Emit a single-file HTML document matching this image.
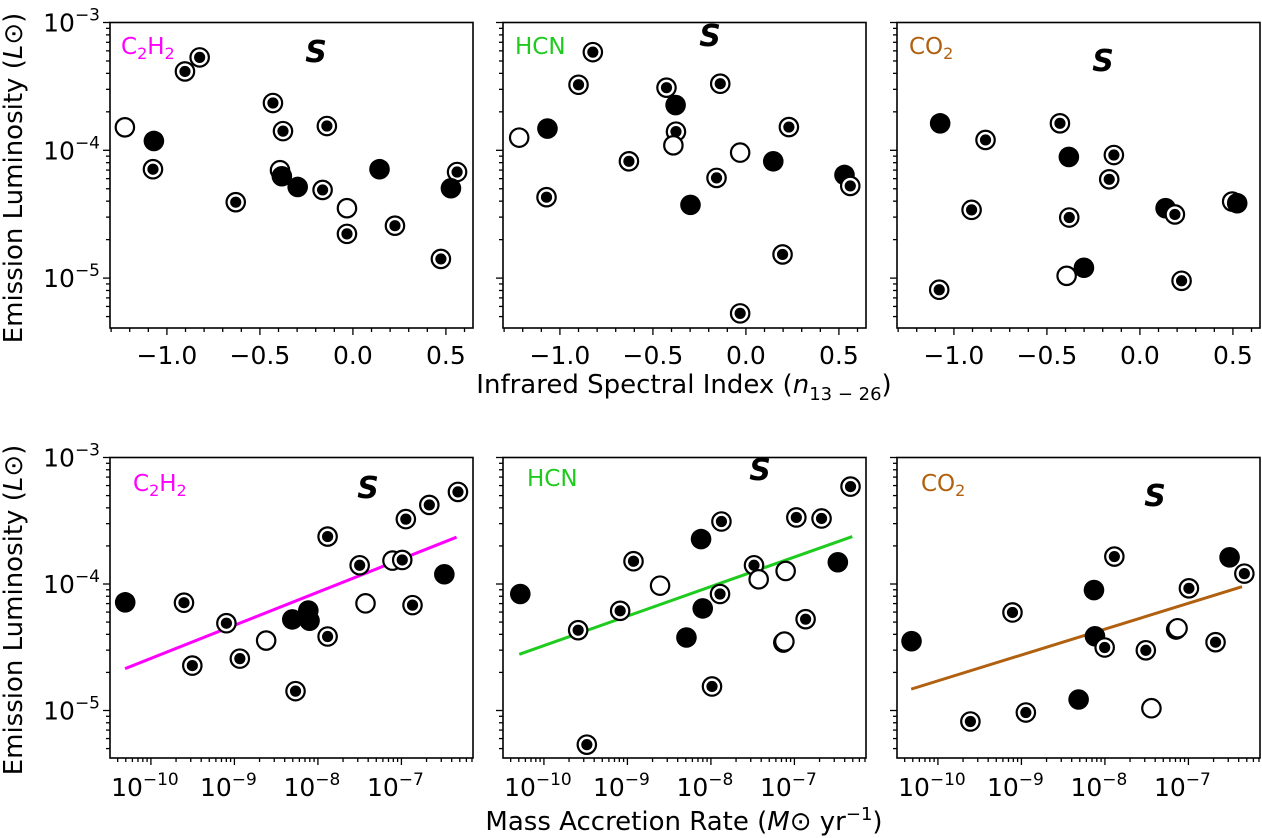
<!DOCTYPE html>
<html><head><meta charset="utf-8"><style>
html,body{margin:0;padding:0;background:#fff;}
svg{display:block;font-family:"DejaVu Sans","Liberation Sans",sans-serif;}
</style></head><body>
<svg id="fig" width="1262" height="838" viewBox="0 0 1262 838" xmlns="http://www.w3.org/2000/svg">
<text transform="translate(22,178) rotate(-90)" text-anchor="middle" font-size="26">Emission Luminosity (<tspan font-style="italic">L</tspan>⊙)</text>
<text transform="translate(22,610) rotate(-90)" text-anchor="middle" font-size="26">Emission Luminosity (<tspan font-style="italic">L</tspan>⊙)</text>
<text x="684" y="393" text-anchor="middle" font-size="26">Infrared Spectral Index (<tspan font-style="italic">n</tspan><tspan font-size="18" dy="7">13 − 26</tspan><tspan dy="-7">)</tspan></text>
<text x="684" y="830" text-anchor="middle" font-size="26">Mass Accretion Rate (<tspan font-style="italic">M</tspan>⊙ yr<tspan font-size="18" dy="-10">−1</tspan><tspan dy="10">)</tspan></text>
</svg>
<script>
// ---- data (x = spectral index or log10 accretion rate, y = log10 luminosity) ----
const topC2H2X=[-1.226,-1.07,-1.075,-0.903,-0.824,-0.63,-0.43,-0.376,-0.392,-0.382,-0.297,-0.14,-0.163,-0.032,-0.032,0.143,0.226,0.473,0.56,0.527];
const topC2H2Y=[-3.82,-3.927,-4.148,-3.383,-3.273,-4.406,-3.63,-3.85,-4.156,-4.203,-4.287,-3.81,-4.31,-4.453,-4.654,-4.148,-4.59,-4.85,-4.17,-4.297];
const topC2H2K=['o','f','r','r','r','r','r','r','o','f','f','r','r','o','r','f','r','r','r','f'];
const topHCNX=[-1.219,-1.067,-1.072,-0.9,-0.823,-0.629,-0.427,-0.378,-0.376,-0.39,-0.298,-0.158,-0.138,-0.031,-0.031,0.147,0.197,0.231,0.53,0.561];
const topHCNY=[-3.901,-3.83,-4.367,-3.487,-3.232,-4.086,-3.51,-3.646,-3.854,-3.961,-4.427,-4.216,-3.479,-4.018,-5.276,-4.086,-4.815,-3.818,-4.193,-4.279];
const topHCNK=['o','f','r','r','r','r','r','f','r','o','f','r','r','o','r','f','r','r','f','r'];
const topCO2X=[-1.074,-1.079,-0.905,-0.83,-0.43,-0.382,-0.38,-0.394,-0.301,-0.165,-0.14,0.138,0.188,0.224,0.496,0.523];
const topCO2Y=[-3.789,-5.091,-4.466,-3.919,-3.789,-4.052,-4.526,-4.982,-4.919,-4.227,-4.037,-4.453,-4.502,-5.021,-4.401,-4.414];
const topCO2K=['f','r','r','r','r','f','r','o','f','r','r','f','r','r','o','f'];
const botC2H2X=[-10.308,-9.604,-9.504,-9.096,-8.935,-8.62,-8.307,-8.115,-8.1,-8.268,-7.884,-7.884,-7.5,-7.43,-7.107,-6.99,-6.947,-6.867,-6.666,-6.486,-6.323];
const botC2H2Y=[-4.145,-4.148,-4.645,-4.31,-4.59,-4.447,-4.28,-4.21,-4.29,-4.847,-4.415,-3.625,-3.852,-4.153,-3.815,-3.81,-3.487,-4.167,-3.375,-3.923,-3.272];
const botC2H2K=['f','r','r','r','r','o','f','f','f','r','r','r','r','o','o','r','r','r','r','f','r'];
const botHCNX=[-10.283,-9.59,-9.486,-9.087,-8.927,-8.609,-8.293,-8.118,-8.098,-7.987,-7.891,-7.874,-7.484,-7.428,-7.133,-7.105,-6.977,-6.866,-6.675,-6.48,-6.328,-7.12];
const botHCNY=[-4.079,-4.365,-5.27,-4.212,-3.82,-4.013,-4.423,-3.645,-4.193,-4.81,-4.079,-3.506,-3.852,-3.963,-4.463,-3.897,-3.474,-4.278,-3.482,-3.828,-3.23,-4.455];
const botHCNK=['f','r','r','r','r','o','f','f','f','r','r','r','r','o','f','o','r','r','r','f','r','o'];
const botCO2X=[-10.316,-9.611,-9.107,-8.947,-8.315,-8.131,-8.119,-8.003,-7.887,-7.51,-7.443,-7.147,-6.994,-6.675,-6.507,-6.33,-7.13];
const botCO2Y=[-4.452,-5.087,-4.225,-5.016,-4.913,-4.048,-4.413,-4.502,-3.783,-4.524,-4.982,-4.36,-4.034,-4.46,-3.789,-3.918,-4.35];
const botCO2K=['f','r','r','r','f','f','f','r','r','r','o','f','r','r','f','r','o'];
const fitC2H2X=[-10.31,-6.34], fitC2H2Y=[-4.669,-3.63];
const fitHCNX=[-10.295,-6.307], fitHCNY=[-4.556,-3.625];
const fitCO2X=[-10.32,-6.358], fitCO2Y=[-4.831,-4.021];
const topXTicks=[-1.0,-0.5,0.0,0.5], topXTickLabels=['−1.0','−0.5','0.0','0.5'];
const botXTicks=[-10,-9,-8,-7], botXTickLabels=['−10','−9','−8','−7'];
const yTicks=[-3,-4,-5], yTickLabels=['−3','−4','−5'];

const NS='http://www.w3.org/2000/svg';
const svg=document.getElementById('fig');
function mk(tag,attrs,parent){const e=document.createElementNS(NS,tag);for(const k in attrs)e.setAttribute(k,attrs[k]);(parent||svg).appendChild(e);return e;}
const lefts=[110,503,897], W=363;
const rows=[{top:22.5,bot:328,ymax:-3,ppd:127.8,xmin:-1.306,ppx:186,type:'lin'},
            {top:457.5,bot:758,ymax:-3,ppd:126.5,xmin:-10.49,ppx:83.5,type:'log'}];
const species=[{c:'#ff00ff'},{c:'#1ecb1e'},{c:'#b0600f'}];
const sPos=[[[316,62],[710,46],[1103,71]],[[368,498],[760,480],[1155,506]]];
const labPos=[[[121,54],[515,54],[909,54]],[[133,491],[527,486],[921,491]]];
const dataSets=[[[topC2H2X,topC2H2Y,topC2H2K],[topHCNX,topHCNY,topHCNK],[topCO2X,topCO2Y,topCO2K]],
                [[botC2H2X,botC2H2Y,botC2H2K],[botHCNX,botHCNY,botHCNK],[botCO2X,botCO2Y,botCO2K]]];
const fits=[[fitC2H2X,fitC2H2Y],[fitHCNX,fitHCNY],[fitCO2X,fitCO2Y]];
const names=['c2h2','hcn','co2'];

rows.forEach((R,ri)=>{
  lefts.forEach((L,pi)=>{
    const g=mk('g',{});
    
    
    const sx=v=>L+(v-R.xmin)*R.ppx;
    const sy=v=>R.top+(R.ymax-v)*R.ppd;
    for(let d=-3;d>=-6;d--){
      for(let m=1;m<10;m++){
        const v=d+Math.log10(m); const y=sy(v);
        if(y<R.top-0.5||y>R.bot+0.5)continue;
        mk('line',{x1:L,x2:L-(m===1?7:4),y1:y,y2:y,stroke:'#000','stroke-width':1.3},g);
      }
    }
    if(pi===0){yTicks.forEach((t,i)=>{const tx=mk('text',{x:L-10,y:sy(t)+9,'text-anchor':'end','font-size':25},g);
      
      tx.innerHTML='10<tspan font-size="17" dy="-11">'+yTickLabels[i]+'</tspan>';});}
    if(R.type==='lin'){
      for(let k=-13;k<=6;k++){const v=k/10;const x=sx(v);if(x<L||x>L+W)continue;
        mk('line',{x1:x,x2:x,y1:R.bot,y2:R.bot+(k%5===0?7:4),stroke:'#000','stroke-width':1.3},g);}
      topXTicks.forEach((t,i)=>{const tx=mk('text',{x:sx(t),y:R.bot+36,'text-anchor':'middle','font-size':25},g);
        tx.textContent=topXTickLabels[i];});
    } else {
      for(let d=-11;d<=-6;d++)for(let m=1;m<10;m++){const v=d+Math.log10(m);const x=sx(v);if(x<L||x>L+W)continue;
        mk('line',{x1:x,x2:x,y1:R.bot,y2:R.bot+(m===1?7:4),stroke:'#000','stroke-width':1.3},g);}
      botXTicks.forEach((t,i)=>{const tx=mk('text',{x:sx(t)-6,y:R.bot+38,'text-anchor':'middle','font-size':25},g);
        
        tx.innerHTML='10<tspan font-size="17" dy="-11">'+botXTickLabels[i]+'</tspan>';});
    }
    if(ri===1){const F=fits[pi];const x1=sx(F[0][0]),y1=sy(F[1][0]),x2=sx(F[0][1]),y2=sy(F[1][1]);
      const ln=mk('line',{x1:x1,y1:y1,x2:x2,y2:y2,stroke:species[pi].c,'stroke-width':3},g);
      }
    const D=dataSets[ri][pi];
    D[0].forEach((xv,i)=>{const cx=sx(xv),cy=sy(D[1][i]),k=D[2][i];
      const mg=mk('g',{},g);
      
      if(k==='f'){mk('circle',{cx:cx,cy:cy,r:10.3,fill:'#000'},mg);}
      else{mk('circle',{cx:cx,cy:cy,r:9.2,fill:'#fff',stroke:'#000','stroke-width':2.2},mg);
        if(k==='r')mk('circle',{cx:cx,cy:cy,r:5.6,fill:'#000'},mg);}
    });
    const fr=mk('rect',{x:L,y:R.top,width:W,height:R.bot-R.top,fill:'none',stroke:'#000','stroke-width':1.6},g);
    
    const s=mk('text',{x:sPos[ri][pi][0],y:sPos[ri][pi][1],'text-anchor':'middle','font-size':30,'font-weight':'bold','font-style':'italic'},g);
    s.textContent='S';
    const lp=labPos[ri][pi];
    const t=mk('text',{x:lp[0],y:lp[1],'font-size':23,fill:species[pi].c},g);
    
    if(pi===0)t.innerHTML='C<tspan font-size="16" dy="5">2</tspan><tspan dy="-5">H</tspan><tspan font-size="16" dy="5">2</tspan>';
    else if(pi===1)t.textContent='HCN';
    else t.innerHTML='CO<tspan font-size="16" dy="5">2</tspan>';
  });
});
</script>
</body></html>
